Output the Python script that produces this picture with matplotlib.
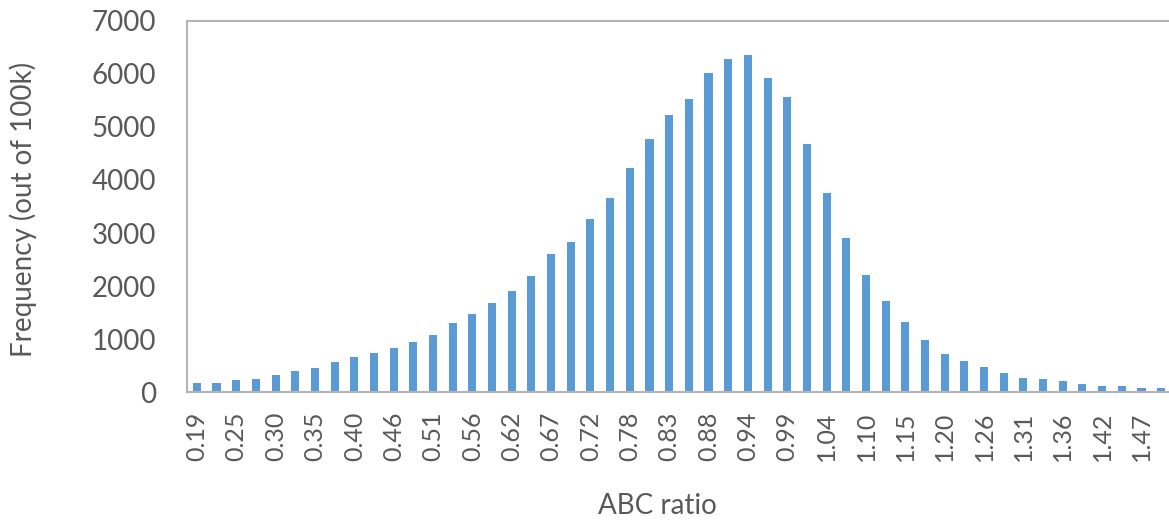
import numpy as np
import matplotlib
matplotlib.use('Agg')
import matplotlib.pyplot as plt

plt.rcParams['font.family'] = ['Lato', 'DejaVu Sans']

# frequency per bin (out of 100k), 50 bins
freq = [170, 181, 226, 245, 320, 401, 458, 565, 665, 734,
        840, 953, 1085, 1299, 1469, 1688, 1902, 2196, 2599, 2836,
        3269, 3659, 4224, 4770, 5222, 5517, 6013, 6277, 6352, 5913,
        5561, 4670, 3753, 2900, 2203, 1719, 1324, 990, 727, 589,
        476, 358, 264, 245, 213, 162, 119, 119, 75, 75]

# labels shown on every other bin
tick_labels = ['0.19', '0.25', '0.30', '0.35', '0.40', '0.46', '0.51', '0.56',
               '0.62', '0.67', '0.72', '0.78', '0.83', '0.88', '0.94', '0.99',
               '1.04', '1.10', '1.15', '1.20', '1.26', '1.31', '1.36', '1.42',
               '1.47']

txt = '#595959'
grey = '#b4b4b4'

fig = plt.figure(figsize=(11.69, 5.25), dpi=100)
ax = fig.add_axes([187/1169, 0.2528, 984/1169, 0.7078])

x = np.arange(len(freq))
ax.bar(x, freq, width=0.41, color='#5b9bd5')

ax.set_xlim(-0.5, len(freq) - 0.5)
ax.set_ylim(0, 7000)
ax.set_yticks(np.arange(0, 7001, 1000))
ax.set_xticks(x[::2])
ax.set_xticklabels(tick_labels, rotation=90)

ax.tick_params(axis='y', length=0, pad=22, labelsize=20, labelcolor=txt)
ax.tick_params(axis='x', length=0, pad=14, labelsize=18, labelcolor=txt)

for s in ['top', 'bottom', 'left', 'right']:
    ax.spines[s].set_color(grey)
    ax.spines[s].set_linewidth(1.5)

ax.set_ylabel('Frequency (out of 100k)', fontsize=20, color=txt)
ax.yaxis.set_label_coords(-0.152, 0.492)
ax.set_xlabel('ABC ratio', fontsize=20, color=txt)
ax.xaxis.set_label_coords(0.478, -0.27)

fig.savefig('out.png', dpi=100)
